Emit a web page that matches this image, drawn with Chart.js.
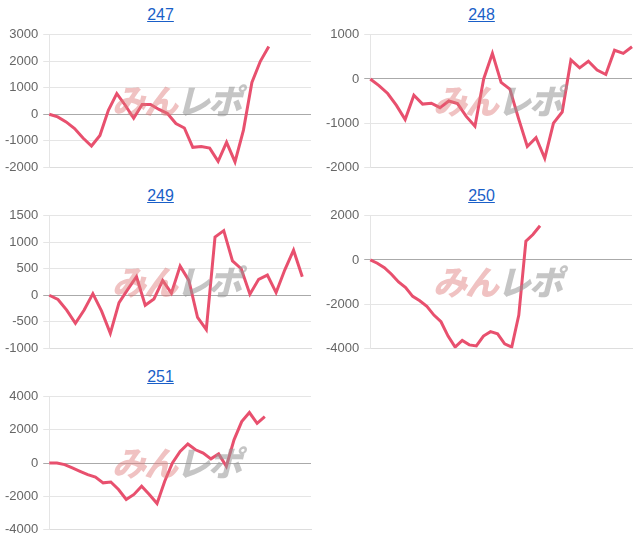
<!DOCTYPE html>
<html><head><meta charset="utf-8">
<script src="https://cdn.jsdelivr.net/npm/chart.js@4"></script>
<style>
body{margin:0;background:#fff;font-family:"Liberation Sans",Arial,sans-serif;}
.cell{position:absolute;width:321px;height:181px;}
.cell a{position:absolute;top:6px;left:0;width:100%;text-align:center;color:#1a5fc8;font-size:16px;text-decoration:underline;}
.cell canvas{position:absolute;left:0;top:22px;}
.wm{position:absolute;top:75px;left:112px;font:italic 900 34px "Noto Sans CJK JP";letter-spacing:-2px;pointer-events:none;}
.wm .a{color:rgba(222,120,120,0.45)}.wm .b{color:rgba(150,150,150,0.55)}
</style></head><body>
<script>
const titles=["247","248","249","250","251"];
const labelCounts=[32,31,31,38,35];
const s247=[0,-100,-290,-540,-900,-1200,-800,150,780,340,-150,370,370,180,30,-350,-520,-1250,-1220,-1280,-1780,-1060,-1800,-600,1200,2000,2560];
const s248=[0,-150,-330,-600,-920,-370,-570,-550,-650,-500,-560,-850,-1070,0,580,-80,-230,-900,-1530,-1330,-1800,-1000,-750,430,250,400,200,100,650,580,730];
const s249=[0,-80,-280,-530,-280,30,-300,-720,-140,110,350,-190,-70,280,40,550,280,-420,-650,1100,1220,650,500,20,300,380,50,480,850,350];
const s250=[0,-150,-350,-650,-1000,-1250,-1650,-1850,-2100,-2500,-2800,-3450,-3950,-3650,-3850,-3900,-3450,-3250,-3350,-3800,-3950,-2500,850,1150,1550];
const s251=[0,0,-100,-300,-500,-700,-850,-1200,-1150,-1600,-2200,-1900,-1400,-1900,-2450,-1100,0,700,1150,800,600,250,550,-200,1400,2500,3050,2400,2800];
const series=[s247,s248,s249,s250,s251];
const yMin=[-2000,-2000,-1000,-4000,-4000];
const yMax=[3000,1000,1500,2000,4000];
const ySteps=[1000,1000,500,2000,2000];
const pos=[[0,0],[321,0],[0,181],[321,181],[0,362]];
series.forEach((d,i)=>{
  const c=document.createElement('div');c.className='cell';
  c.style.left=pos[i][0]+'px';c.style.top=pos[i][1]+'px';
  c.innerHTML='<a>'+titles[i]+'</a><canvas width="321" height="158"></canvas><div class="wm"><span class="a">みん</span><span class="b">レポ</span></div>';
  document.body.appendChild(c);
  const labels=Array.from({length:labelCounts[i]},(_,k)=>String(k+1));
  new Chart(c.querySelector('canvas'),{type:'line',
    data:{labels,datasets:[{data:d,borderColor:'#e8506e',borderWidth:3,pointRadius:0,tension:0,fill:false}]},
    options:{responsive:false,animation:false,plugins:{legend:{display:false},tooltip:{enabled:false}},
      layout:{padding:{left:0,right:10,top:0,bottom:0}},
      scales:{x:{ticks:{display:false},grid:{display:false},border:{color:'#ddd'}},
        y:{min:yMin[i],max:yMax[i],ticks:{stepSize:ySteps[i],color:'#666',padding:5,font:{size:13,family:'Liberation Sans'},callback:v=>String(v)},
          grid:{color:ctx=>ctx.tick.value===0?'#aaa':'#e5e5e5',drawTicks:true,tickLength:6},border:{display:true,color:'#e5e5e5'}}}}});
});
</script></body></html>
